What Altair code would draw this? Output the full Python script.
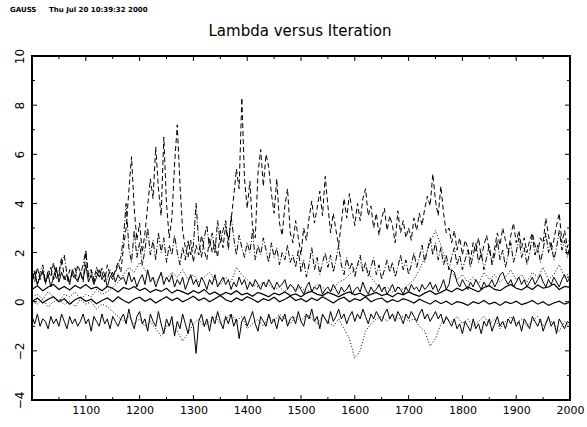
import altair as alt
import pandas as pd

# ---- data ----
hi_dash = [1.1,0.8,1.4,0.9,1.2,0.7,1.3,1.0,1.6,0.9,1.2,1.8,1.0,0.8,1.3,1.1,0.9,1.5,1.2,0.8,2.0,1.1,1.3,0.9,1.4,1.0,1.2,0.8,1.5,1.1,0.9,1.3,1.6,1.2,
    2.2,3.0,4.5,5.9,3.8,2.5,3.2,2.0,2.8,3.9,5.0,4.2,6.3,4.6,3.5,6.7,4.0,2.6,3.4,5.6,7.2,4.8,2.9,2.2,1.8,2.5,1.6,2.3,1.9,2.7,2.1,1.7,2.6,2.0,2.4,1.8,2.9,2.2,3.1,2.5,3.3,4.3,5.4,4.6,8.3,5.0,3.8,4.9,3.0,2.6,5.2,6.2,4.7,6.0,5.5,4.4,3.6,5.0,3.2,2.7,3.9,4.6,2.8,
    2.4,3.3,2.6,1.9,3.0,2.5,3.4,4.1,3.2,3.8,4.5,3.5,5.1,3.9,2.8,3.6,2.9,2.3,3.2,4.2,3.4,4.4,3.7,3.1,4.0,3.3,4.2,4.6,3.5,3.9,3.0,3.6,2.7,3.4,3.8,2.9,3.5,3.1,2.4,3.7,2.8,3.3,2.6,3.0,2.5,3.4,2.9,3.6,3.1,3.8,4.3,3.9,5.2,4.1,3.5,4.7,3.6,2.8,
    3.0,2.4,2.9,2.1,2.6,1.9,2.5,2.2,1.7,2.4,2.0,2.6,1.8,2.3,2.7,2.1,1.6,2.2,2.8,2.3,3.0,2.5,2.0,2.7,3.2,2.4,2.9,2.2,2.6,2.0,2.5,2.8,2.3,2.0,2.6,2.4,3.4,2.7,2.1,2.5,3.1,3.6,2.4,2.9,2.2,2.6]

dash_dot = [0.9,1.3,0.7,1.2,1.5,0.8,1.1,1.4,0.9,1.3,1.0,1.6,1.9,1.1,0.8,1.2,1.4,0.9,1.1,1.5,2.1,1.0,1.3,0.8,1.2,1.0,1.4,1.1,0.9,1.3,1.0,1.2,1.5,1.8,
    2.6,4.0,2.2,1.6,2.9,1.8,2.4,1.5,2.1,3.0,1.9,2.5,1.7,2.8,2.0,2.6,1.6,2.3,1.9,2.7,2.0,1.5,2.2,1.7,2.5,1.9,2.3,4.0,2.4,1.8,2.6,3.1,2.2,2.8,2.0,3.3,2.4,2.9,3.3,2.1,3.5,2.6,1.9,2.7,2.2,1.8,2.4,2.0,2.9,1.7,2.3,1.9,2.6,2.1,1.6,2.4,1.8,2.2,1.5,2.0,1.7,2.3,1.6,
    1.9,1.4,2.1,1.2,1.7,1.0,1.5,2.2,1.3,1.8,1.1,1.6,2.0,1.4,1.9,1.2,1.7,2.3,1.5,1.1,1.8,1.3,1.6,1.0,1.5,1.9,1.2,1.6,1.0,1.4,1.8,1.1,1.5,0.9,1.3,1.7,1.2,1.6,1.0,1.4,1.9,1.3,1.7,1.1,1.5,2.0,1.4,1.8,2.3,1.6,2.1,2.6,1.9,2.4,1.7,2.2,1.5,1.9,1.3,1.8,2.2,1.5,1.9,1.3,1.7,2.1,1.4,1.9,2.4,1.6,2.0,1.3,1.8,2.3,1.5,1.9,2.5,1.7,2.1,1.4,1.9,2.4,1.6,2.0,2.6,1.8,2.2,1.5,2.0,2.7,1.9,2.3,1.6,2.1,2.8,2.0,2.4,1.7,2.2,2.9,2.1,2.5,1.8,2.3]

upper_solid = [0.9,1.2,0.7,1.0,1.3,0.8,1.1,0.6,1.0,1.4,0.8,1.2,0.9,1.1,0.7,1.3,1.0,0.8,1.2,0.9,1.5,0.8,1.1,0.7,1.0,1.3,0.9,1.1,0.6,1.0,1.2,0.8,1.1,0.9,
    1.0,0.7,1.2,0.8,1.0,0.6,0.9,1.1,0.7,1.3,0.8,1.0,0.6,0.9,1.2,0.7,1.0,0.8,1.1,0.6,0.9,0.7,1.0,0.5,0.8,1.1,0.7,0.9,0.6,1.0,0.8,0.5,0.9,0.7,1.1,0.6,0.8,1.0,0.7,0.9,0.5,0.8,0.6,1.0,0.7,0.9,0.5,0.8,0.6,0.9,0.7,0.5,0.8,0.6,0.9,0.7,0.5,0.8,0.6,0.7,0.9,0.5,0.7,
    0.6,0.4,0.7,0.5,0.3,0.6,0.8,0.4,0.6,0.5,0.7,0.3,0.5,0.6,0.4,0.7,0.5,0.3,0.6,0.4,0.5,0.7,0.3,0.5,0.6,0.4,0.8,0.5,0.3,0.6,0.4,0.5,0.7,0.4,0.6,0.3,0.5,0.7,0.4,0.6,0.5,0.3,0.6,0.4,0.7,0.5,0.6,0.4,0.7,0.5,0.6,0.8,0.5,0.7,0.4,0.6,0.9,0.5,0.7,1.3,1.2,0.8,0.6,0.9,0.7,0.5,0.8,0.6,0.9,0.7,0.5,0.8,0.6,0.7,0.9,0.6,0.8,1.1,1.2,0.9,0.7,0.9,0.6,0.8,1.0,0.7,0.9,0.6,0.8,1.0,0.7,0.9,1.1,0.8,0.6,0.9,0.7,1.0,0.8,0.6,0.9,1.1,0.8,1.0]

lower_solid = [-0.6,-0.9,-0.5,-1.0,-0.7,-0.8,-1.1,-0.6,-0.9,-0.7,-1.0,-0.5,-0.8,-1.1,-0.6,-0.9,-0.7,-1.0,-0.8,-0.5,-0.9,-0.7,-1.2,-0.6,-0.8,-1.0,-0.5,-0.9,-0.7,-1.1,-0.6,-0.8,-1.0,-0.7,
    -0.5,-0.9,-0.3,-0.8,-1.1,-0.6,-0.4,-0.9,-0.7,-1.2,-0.5,-0.8,-1.0,-0.4,-0.9,-1.3,-0.7,-1.0,-0.6,-1.4,-0.8,-1.1,-0.5,-0.9,-1.3,-0.7,-1.0,-2.1,-0.8,-0.5,-1.0,-0.7,-1.2,-0.6,-0.9,-0.4,-0.8,-1.1,-0.6,-0.9,-0.5,-1.0,-0.7,-1.5,-0.8,-0.6,-1.0,-0.7,-0.4,-0.9,-1.2,-0.6,-0.8,-1.0,-0.5,-0.9,-0.7,-1.1,-0.6,-0.8,-0.5,-1.0,-0.7,
    -0.6,-0.9,-0.4,-0.8,-1.0,-0.5,-0.7,-0.3,-0.8,-0.6,-1.1,-0.5,-0.7,-0.9,-0.4,-0.8,-0.6,-0.3,-0.7,-0.5,-0.9,-0.6,-0.4,-0.8,-0.5,-0.7,-0.3,-0.6,-0.9,-0.5,-0.7,-0.4,-0.6,-0.8,-0.5,-0.3,-0.7,-0.5,-0.8,-0.4,-0.6,-0.9,-0.5,-0.7,-0.4,-0.6,-0.8,-0.5,-0.3,-0.7,-0.5,-0.8,-0.6,-0.4,-0.7,-0.5,-0.9,-0.6,-0.8,-1.0,-0.7,-1.1,-0.9,-1.3,-0.8,-1.0,-1.2,-0.7,-1.1,-0.9,-1.3,-0.8,-1.0,-0.7,-1.2,-0.9,-0.6,-1.0,-0.8,-1.1,-0.7,-0.9,-0.6,-1.0,-0.8,-1.2,-0.7,-0.9,-1.1,-0.6,-0.8,-1.0,-0.7,-1.2,-0.9,-0.6,-1.0,-0.8,-1.3,-0.7,-0.9,-1.1,-0.8,-0.9]

dotted_upper = [0.2,0.3,0.1,0.4,0.2,0.0,0.3,0.2,0.4,0.1,0.3,0.2,0.5,0.3,0.4,0.6,0.8,
    1.1,1.4,1.2,1.6,1.3,1.0,0.8,1.1,0.9,1.2,1.0,1.3,0.9,1.1,0.8,1.0,1.2,0.9,0.7,1.0,0.8,1.4,1.1,0.9,0.7,0.6,0.8,0.7,0.5,0.6,0.4,0.7,0.5,
    0.6,0.4,0.5,0.7,0.6,0.4,0.5,0.8,0.9,1.1,1.3,1.6,1.4,1.0,0.7,0.5,0.6,0.4,0.6,0.5,
    0.7,0.9,1.3,1.8,2.4,2.9,2.3,1.6,1.2,0.9,1.1,0.8,1.0,0.7,1.2,0.9,1.1,0.8,1.0,1.3,0.9,1.1,0.8,1.2,1.0,1.4,0.9,1.1,1.5,1.0,1.2]

dotted_lower = [0.0,-0.1,0.1,-0.2,0.0,0.1,-0.1,0.0,-0.2,0.1,-0.1,0.0,-0.3,-0.1,-0.2,-0.4,-0.6,
    -0.8,-0.6,-0.9,-0.7,-1.0,-0.8,-1.1,-1.4,-1.0,-0.9,-1.2,-1.6,-1.3,-0.9,-0.7,-1.0,-0.8,-0.6,-0.9,-0.7,-0.5,-0.8,-0.6,-1.1,-0.9,-0.7,-1.0,-0.6,-0.8,-0.5,-0.7,-0.9,-0.6,
    -0.8,-0.5,-0.7,-0.9,-0.6,-0.8,-1.0,-0.7,-1.1,-1.5,-2.3,-2.0,-1.2,-0.9,-0.7,-0.6,-0.8,-0.5,-0.7,-0.6,
    -0.8,-0.7,-1.0,-1.2,-1.8,-1.5,-0.9,-0.7,-0.8,-0.6,-0.9,-0.7,-1.0,-0.8,-0.6,-0.9,-0.7,-1.1,-0.8,-0.6,-0.9,-0.7,-1.0,-0.8,-0.6,-1.0,-0.7,-0.9,-1.2,-0.8,-1.0]

smooth_a = [0.5,0.65,0.45,0.6,0.7,0.5,0.62,0.48,0.66,0.55,
    0.7,0.52,0.6,0.45,0.62,0.55,0.4,0.58,0.5,0.62,
    0.45,0.55,0.38,0.5,0.42,0.55,0.35,0.48,0.4,0.3,
    0.45,0.35,0.5,0.3,0.4,0.25,0.38,0.3,0.45,0.28,
    0.35,0.22,0.38,0.3,0.2,0.35,0.28,0.4,0.25,0.32,
    0.2,0.35,0.42,0.3,0.25,0.38,0.3,0.2,0.32,0.4,
    0.28,0.35,0.22,0.3,0.38,0.25,0.32,0.2,0.35,0.28,
    0.4,0.3,0.22,0.35,0.45,0.3,0.38,0.5,0.4,0.55,
    0.45,0.6,0.5,0.4,0.58,0.65,0.5,0.45,0.6,0.7,
    0.55,0.48,0.62,0.5,0.68,0.55,0.6,0.72,0.5,0.62,0.58]
smooth_b = [0.0,0.15,-0.05,0.1,0.2,0.0,0.12,-0.1,0.08,0.18,
    0.02,0.1,-0.08,0.05,0.15,0.0,0.2,0.05,-0.05,0.1,
    0.18,0.02,0.12,-0.05,0.08,0.2,0.05,0.15,0.0,0.1,
    0.22,0.05,0.15,0.0,0.12,0.25,0.08,0.0,0.15,0.05,
    0.2,0.1,-0.02,0.12,0.05,0.18,0.0,0.1,0.22,0.05,
    0.12,0.0,0.15,0.05,0.2,0.08,-0.05,0.1,0.18,0.0,
    0.12,0.05,0.2,0.0,0.1,0.15,-0.02,0.08,0.0,0.12,
    0.05,-0.05,0.1,0.0,-0.1,0.05,-0.08,0.02,-0.12,0.0,
    -0.05,-0.15,0.0,-0.08,0.05,-0.1,-0.02,-0.15,0.0,-0.08,
    0.02,-0.12,-0.05,0.05,-0.1,0.0,-0.15,-0.05,0.02,-0.1,-0.02]

x_ticks = list(range(1000, 2001, 50))
x_labels = list(range(1100, 2001, 100))
y_ticks = list(range(-4, 11, 1))
y_labels = list(range(-4, 11, 2))

series_specs = [
    ("hi_dash", hi_dash, 5),
    ("dash_dot", dash_dot, 5),
    ("upper_solid", upper_solid, 5),
    ("lower_solid", lower_solid, 5),
    ("dotted_upper", dotted_upper, 10),
    ("dotted_lower", dotted_lower, 10),
    ("smooth_a", smooth_a, 10),
    ("smooth_b", smooth_b, 10),
]
rows = []
for name, vals, step in series_specs:
    for i, v in enumerate(vals):
        rows.append({"series": name, "iter": 1000 + step * i, "value": v})
df = pd.DataFrame(rows)

W, H = 538, 344
FONT = "DejaVu Sans"
xs = alt.Scale(domain=[1000, 2000], nice=False, zero=False)
ys = alt.Scale(domain=[-4, 10], nice=False, zero=False)
x_axis = alt.Axis(values=x_labels, format="d", ticks=False, domain=False, grid=False,
                  labelFlush=False, labelOverlap=False,
                  labelFontSize=11, labelPadding=4, labelFont=FONT, labelColor="black")
y_axis = alt.Axis(values=y_labels, format="d", ticks=False, domain=False, grid=False,
                  labelFlush=False, labelOverlap=False,
                  labelAngle=270, labelFontSize=12, labelPadding=13, labelFont=FONT,
                  labelColor="black", labelAlign="center", labelBaseline="middle")

styles = {
    "hi_dash": dict(strokeDash=[5, 3], strokeWidth=1),
    "dash_dot": dict(strokeDash=[6, 2, 1, 2], strokeWidth=1),
    "upper_solid": dict(strokeWidth=1),
    "lower_solid": dict(strokeWidth=1),
    "dotted_upper": dict(strokeDash=[1, 2], strokeWidth=1),
    "dotted_lower": dict(strokeDash=[1, 2], strokeWidth=1),
    "smooth_a": dict(strokeWidth=1.2),
    "smooth_b": dict(strokeWidth=1.2),
}

base = alt.Chart(df)
layers = []
for name, _, _ in series_specs:
    layers.append(
        base.transform_filter(alt.datum.series == name)
        .mark_line(color="black", clip=True, **styles[name])
        .encode(x=alt.X("iter:Q", scale=xs, title=None, axis=x_axis),
                y=alt.Y("value:Q", scale=ys, title=None, axis=y_axis),
                order="iter:Q")
    )

xt = pd.DataFrame({"t": x_ticks})
yt = pd.DataFrame({"t": y_ticks})
xmaj = alt.Chart(xt).transform_filter("datum.t % 100 == 0")
xmin = alt.Chart(xt).transform_filter("datum.t % 100 != 0")
ymaj = alt.Chart(yt).transform_filter("datum.t % 2 == 0")
ymin = alt.Chart(yt).transform_filter("datum.t % 2 != 0")
tick_layers = []
for ch, ln in ((xmaj, 5), (xmin, 3)):
    tick_layers.append(ch.mark_rule(color="black", strokeWidth=1).encode(
        x=alt.X("t:Q", scale=xs, title=None, axis=x_axis), y=alt.value(H), y2=alt.value(H - ln)))
    tick_layers.append(ch.mark_rule(color="black", strokeWidth=1).encode(
        x=alt.X("t:Q", scale=xs, title=None, axis=x_axis), y=alt.value(0), y2=alt.value(ln)))
for ch, ln in ((ymaj, 5), (ymin, 3)):
    tick_layers.append(ch.mark_rule(color="black", strokeWidth=1).encode(
        y=alt.Y("t:Q", scale=ys, title=None, axis=y_axis), x=alt.value(0), x2=alt.value(ln)))
    tick_layers.append(ch.mark_rule(color="black", strokeWidth=1).encode(
        y=alt.Y("t:Q", scale=ys, title=None, axis=y_axis), x=alt.value(W), x2=alt.value(W - ln)))

txt = pd.DataFrame({"a": [0]})
title = alt.Chart(txt).mark_text(text="Lambda versus Iteration", font=FONT,
                                 fontSize=15, align="center", baseline="middle",
                                 color="black").encode(x=alt.value(W / 2 - 1), y=alt.value(-25))
hdr1 = alt.Chart(txt).mark_text(text="GAUSS", font=FONT, fontSize=7,
                                fontWeight="bold", align="left", baseline="middle",
                                color="black").encode(x=alt.value(-22), y=alt.value(-46))
hdr2 = alt.Chart(txt).mark_text(text="Thu Jul 20 10:39:32 2000", font=FONT,
                                fontSize=7, fontWeight="bold", align="left", baseline="middle",
                                color="black").encode(x=alt.value(17), y=alt.value(-46))

chart = alt.layer(*layers, *tick_layers, title, hdr1, hdr2).properties(
    width=W, height=H,
    padding={"left": 32, "top": 56, "right": 17, "bottom": 27},
    autosize=alt.AutoSizeParams(type="none"),
    background="white",
).configure_view(stroke="black", strokeWidth=2)

chart.save("out.html", embed_options={"renderer": "svg", "actions": False})
